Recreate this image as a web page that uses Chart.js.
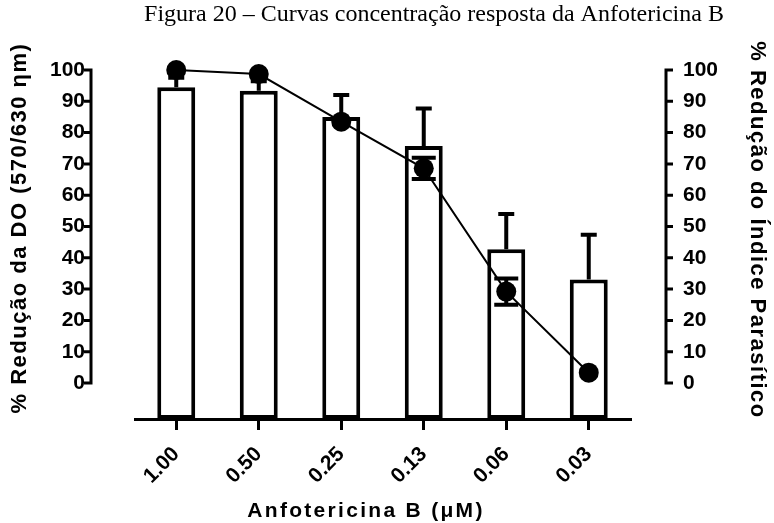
<!DOCTYPE html>
<html>
<head>
<meta charset="utf-8">
<script src="https://cdn.jsdelivr.net/npm/chart.js@4.4.1/dist/chart.umd.min.js"></script>
<style>
  html, body { margin: 0; padding: 0; background: #fff; }
</style>
</head>
<body>
<canvas id="chart" width="774" height="523"></canvas>
<script>
// concentrations of Anfotericina B (uM)
const concentrations = ['1.00', '0.50', '0.25', '0.13', '0.06', '0.03'];
// bars: % reducao da DO (left axis), mean and SD (upper only)
const doReduction = [94.5, 93.4, 85.0, 75.7, 42.7, 33.1];
const doSd = [3.0, 3.0, 7.0, 12.0, 11.3, 14.3];
// line: % reducao do indice parasitico (right axis), mean and SD
// (0 = error bar hidden behind the symbol)
const parasiteReduction = [100, 98.7, 83.5, 68.6, 29.2, 3.3];
const parasiteSd = [0, 0, 0, 3.4, 4.2, 0];
const yTicks = [0, 10, 20, 30, 40, 50, 60, 70, 80, 90, 100];
const Y_MIN = -11.5;
const Y_MAX = 100;

const FAMILY = '"Liberation Sans", Arial, sans-serif';

// Prism-style offset axes, error bars and titles
const prismExtras = {
  id: 'prismExtras',
  afterDatasetsDraw(chart) {
    const ctx = chart.ctx;
    const y = chart.scales.y;
    const y1 = chart.scales.y1;
    ctx.save();
    ctx.strokeStyle = '#000';
    ctx.lineWidth = 4;
    ctx.lineCap = 'butt';

    // bar error bars (upward only)
    chart.getDatasetMeta(1).data.forEach((bar, i) => {
      const top = y.getPixelForValue(doReduction[i] + doSd[i]);
      const base = y.getPixelForValue(doReduction[i]);
      ctx.beginPath();
      ctx.moveTo(bar.x, base);
      ctx.lineTo(bar.x, top);
      ctx.moveTo(bar.x - 8, top);
      ctx.lineTo(bar.x + 8, top);
      ctx.stroke();
    });

    // point error bars (both ways)
    chart.getDatasetMeta(0).data.forEach((pt, i) => {
      if (!parasiteSd[i]) return;
      const top = y1.getPixelForValue(parasiteReduction[i] + parasiteSd[i]);
      const bot = y1.getPixelForValue(parasiteReduction[i] - parasiteSd[i]);
      ctx.beginPath();
      ctx.moveTo(pt.x, bot);
      ctx.lineTo(pt.x, top);
      ctx.moveTo(pt.x - 12, top);
      ctx.lineTo(pt.x + 12, top);
      ctx.moveTo(pt.x - 12, bot);
      ctx.lineTo(pt.x + 12, bot);
      ctx.stroke();
    });
    ctx.restore();
  },
  afterDraw(chart) {
    const ctx = chart.ctx;
    const area = chart.chartArea;
    ctx.save();
    ctx.strokeStyle = '#000';
    ctx.lineWidth = 3;

    // offset y axes, drawn from 0 to 100 only
    [['y', area.left - 44, -1], ['y1', area.right + 36, 1]].forEach(([id, x, dir]) => {
      const s = chart.scales[id];
      const top = s.getPixelForValue(Y_MAX);
      const bottom = s.getPixelForValue(0);
      ctx.beginPath();
      ctx.moveTo(x, top - 1.5);
      ctx.lineTo(x, bottom + 1.5);
      yTicks.forEach(v => {
        const py = s.getPixelForValue(v);
        ctx.moveTo(x, py);
        ctx.lineTo(x + dir * 7, py);
      });
      ctx.stroke();
    });

    // titles
    ctx.fillStyle = '#000';
    ctx.font = '24px "Liberation Serif", "Times New Roman", serif';
    ctx.textAlign = 'center';
    ctx.textBaseline = 'alphabetic';
    ctx.fillText('Figura 20 – Curvas concentração resposta da Anfotericina B', 434, 21);

    ctx.font = 'bold 21px ' + FAMILY;
    ctx.textBaseline = 'middle';
    ctx.letterSpacing = '2.3px';
    ctx.fillText('Anfotericina B (μM)', 366, 511);

    ctx.font = 'bold 22px ' + FAMILY;
    ctx.letterSpacing = '1.5px';
    ctx.save();
    ctx.translate(20, 228);
    ctx.rotate(-Math.PI / 2);
    ctx.fillText('% Redução da DO (570/630 ηm)', 0, 0);
    ctx.restore();

    ctx.save();
    ctx.translate(757, 230);
    ctx.rotate(Math.PI / 2);
    ctx.fillText('% Redução do Índice Parasítico', 0, 0);
    ctx.restore();
    ctx.restore();
  }
};

new Chart(document.getElementById('chart'), {
  type: 'bar',
  data: {
    labels: concentrations,
    datasets: [
      {
        type: 'line',
        label: '% Redução do Índice Parasítico',
        data: parasiteReduction,
        yAxisID: 'y1',
        borderColor: '#000',
        borderWidth: 2,
        backgroundColor: '#000',
        pointRadius: 10,
        pointBorderWidth: 0,
        pointBackgroundColor: '#000',
        tension: 0,
        clip: false,
        order: 0,
      },
      {
        label: '% Redução da DO',
        data: doReduction,
        yAxisID: 'y',
        base: Y_MIN,
        backgroundColor: '#fff',
        borderColor: '#000',
        borderWidth: 4,
        borderSkipped: false,
        barPercentage: 0.46,
        categoryPercentage: 1,
        order: 1,
      },
    ],
  },
  options: {
    responsive: false,
    animation: false,
    layout: { padding: { top: 70, left: 0, right: 0, bottom: 0 } },
    plugins: {
      legend: { display: false },
      tooltip: { enabled: false },
    },
    scales: {
      x: {
        offset: true,
        grid: {
          offset: false,
          drawOnChartArea: false,
          drawTicks: true,
          tickLength: 11,
          lineWidth: 3,
          color: '#000',
        },
        border: { display: true, color: '#000', width: 3 },
        ticks: {
          color: '#000',
          font: { family: FAMILY, size: 21, weight: 'bold' },
          minRotation: 45,
          maxRotation: 45,
          padding: 12,
        },
        afterFit: scale => { scale.height = 104; },
      },
      y: {
        position: 'left',
        min: Y_MIN,
        max: Y_MAX,
        grid: { display: false, drawTicks: false },
        border: { display: false },
        afterBuildTicks: scale => { scale.ticks = yTicks.map(v => ({ value: v })); },
        ticks: {
          color: '#000',
          font: { family: FAMILY, size: 21, weight: 'bold' },
          padding: 50,
        },
        afterFit: scale => { scale.width = 135; },
      },
      y1: {
        position: 'right',
        min: Y_MIN,
        max: Y_MAX,
        grid: { display: false, drawTicks: false },
        border: { display: false },
        afterBuildTicks: scale => { scale.ticks = yTicks.map(v => ({ value: v })); },
        ticks: {
          color: '#000',
          font: { family: FAMILY, size: 21, weight: 'bold' },
          padding: 53,
        },
        afterFit: scale => { scale.width = 144; },
      },
    },
  },
  plugins: [prismExtras],
});
</script>
</body>
</html>
